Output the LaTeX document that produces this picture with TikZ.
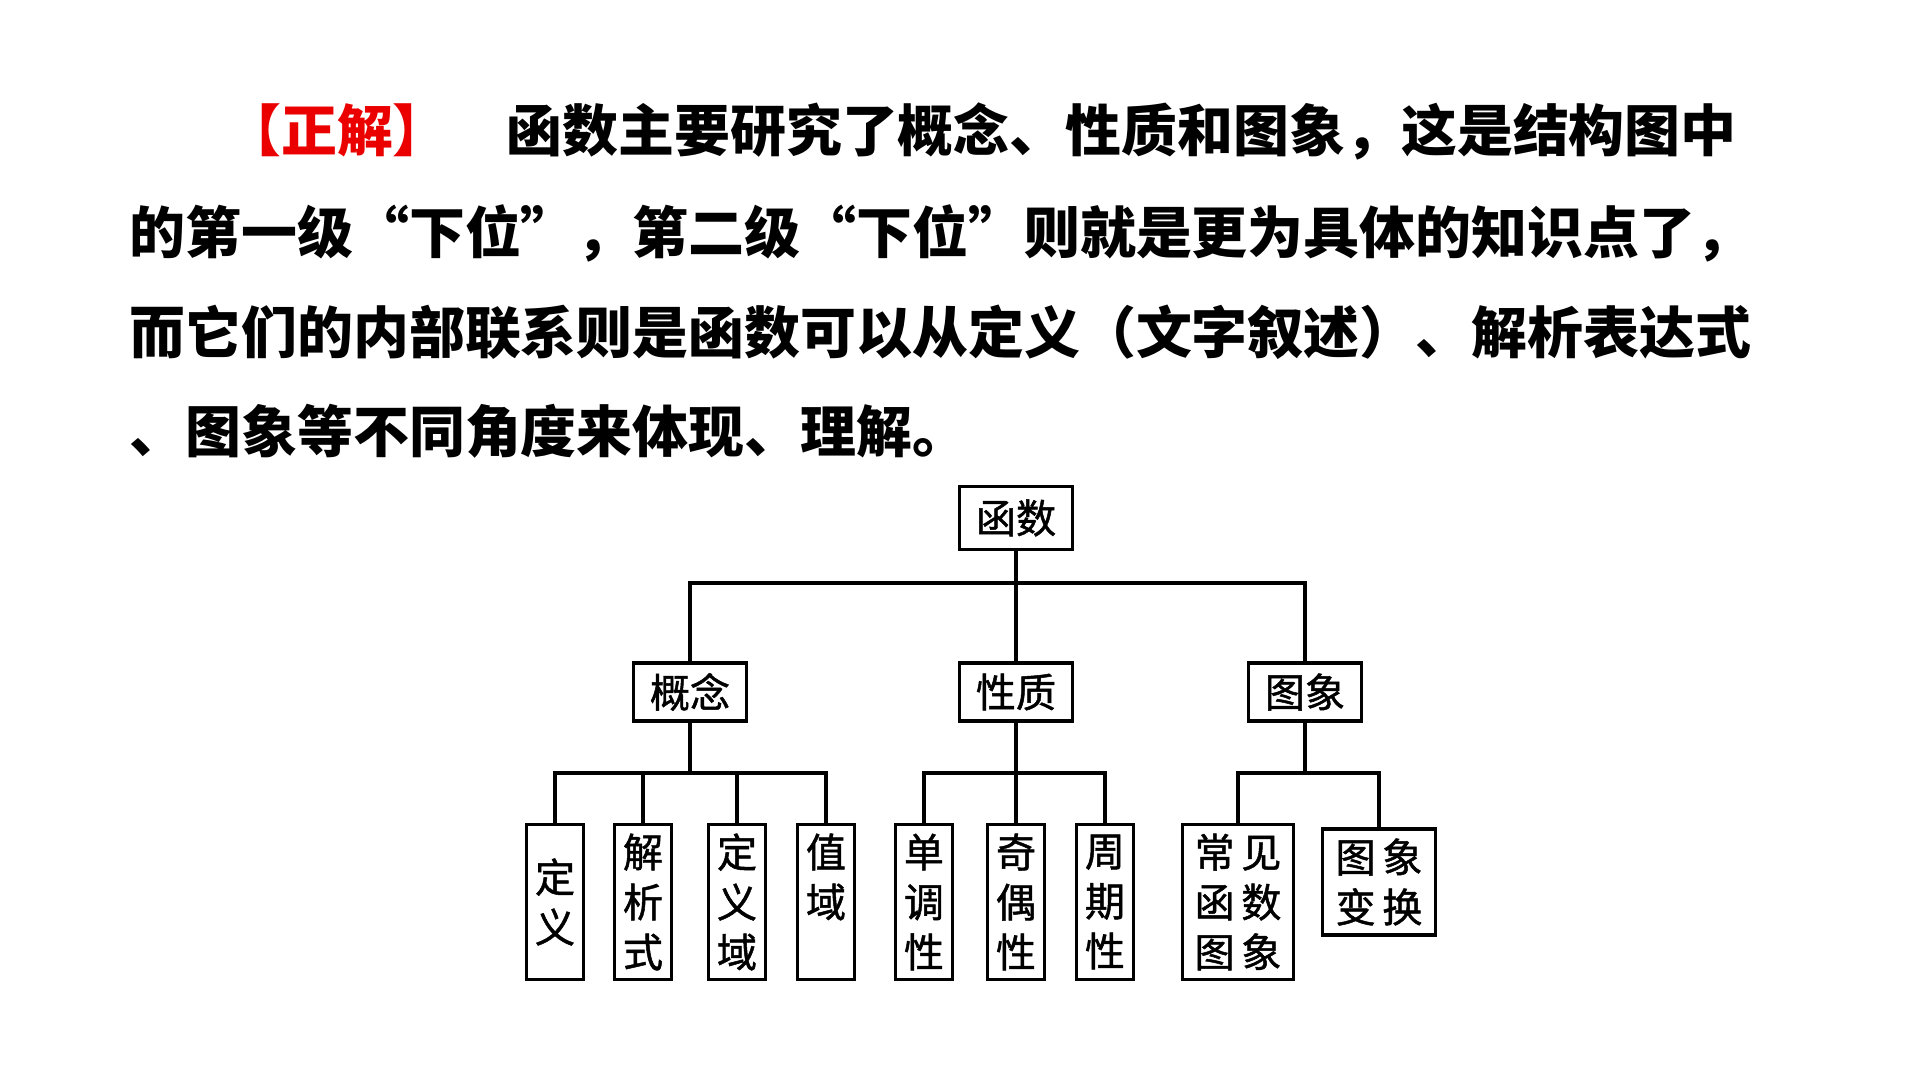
\documentclass[tikz,border=0pt]{standalone}
\usepackage{fontspec}
\usepackage{xcolor}
\usepackage{tikz}
\usetikzlibrary{positioning}
\newfontfamily\heiti[CharacterWidth=Full]{Noto Sans CJK SC}
\newfontfamily\kuangti[FakeBold=1.2]{Noto Sans CJK SC}
\definecolor{zhengjie}{RGB}{235,0,0}

\tikzset{
  kuang/.style={rectangle, draw, inner sep=0pt, align=center,
    font=\kuangti\fontsize{11.4pt}{14.2pt}\selectfont},
  shang/.style={kuang, minimum width=1.13cm, minimum height=0.58cm},
  xia/.style={kuang, minimum width=0.57cm, minimum height=1.55cm},
  kuan/.style={kuang, minimum width=1.11cm, minimum height=1.55cm},
  hang/.style={anchor=base west, inner sep=0pt,
    font=\heiti\bfseries\fontsize{15.9pt}{20pt}\selectfont}
}

\begin{document}
\begin{tikzpicture}[x=0.01cm, y=-0.01cm, line width=0.9pt]
  \useasboundingbox (0,0) rectangle (1920,1080);
  \node[hang, anchor=base, text=zhengjie] (zj) at (337,152) {【正解】};
  \node[hang] (l1) at (505,152) {函数主要研究了概念、性质和图象，这是结构图中};
  \node[hang] (l2) at (128,254) {的第一级“下位”，第二级“下位”则就是更为具体的知识点了，};
  \node[hang] (l3) at (128,354) {而它们的内部联系则是函数可以从定义（文字叙述）、解析表达式};
  \node[hang] (l4) at (128,453) {、图象等不同角度来体现、理解。};

  \node[shang, minimum height=0.63cm] (hs) at (1016,518) {函数};
  \node[shang] (gn) at (690,692) {概念};
  \node[shang] (xz) at (1016,692) {性质};
  \node[shang] (tx) at (1305,692) {图象};

  \node[xia] (dy) at (555,902) {定\\义};
  \node[xia] (jx) at (643,902) {解\\析\\式};
  \node[xia] (dyy) at (737,902) {定\\义\\域};
  \node[xia] (zy) at (826,902) {值\\域\\\phantom{值}};
  \node[xia] (dd) at (924,902) {单\\调\\性};
  \node[xia] (jo) at (1016,902) {奇\\偶\\性};
  \node[xia] (zq) at (1105,902) {周\\期\\性};
  \node[kuan] (cj) at (1238,902) {常\,见\\函\,数\\图\,象};
  \node[kuan, minimum width=1.13cm, minimum height=1.06cm] (bh) at (1379,882) {图\,象\\变\,换};

  \coordinate (g1) at (0,583);
  \coordinate (g2) at (0,773);
  \draw (hs) -- (xz);
  \draw (gn) |- (hs.south |- g1) -| (tx);
  \foreach \p/\c in {gn/dy, gn/jx, gn/dyy, gn/zy, xz/dd, xz/jo, xz/zq, tx/cj, tx/bh}
    \draw (\p) |- (\c.north |- g2) -- (\c);
\end{tikzpicture}
\end{document}
